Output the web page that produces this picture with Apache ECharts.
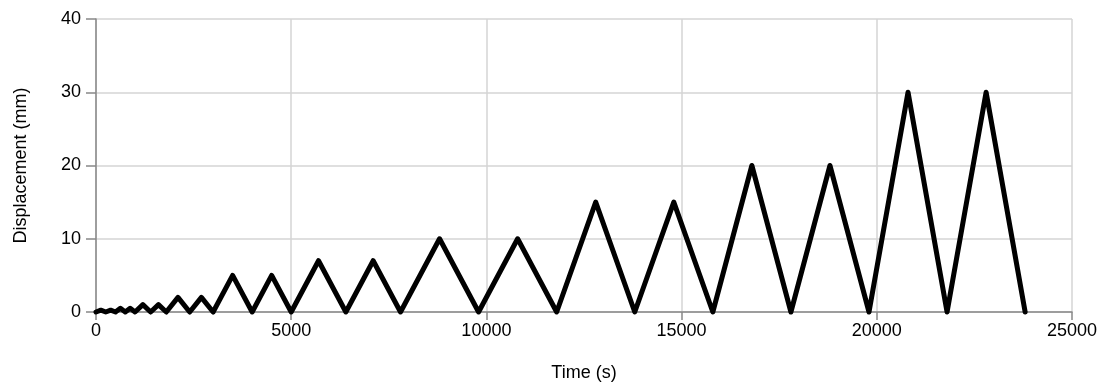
<!DOCTYPE html>
<html>
<head>
<meta charset="utf-8">
<script src="https://cdn.jsdelivr.net/npm/echarts@6/dist/echarts.min.js"></script>
<style>
html,body{margin:0;padding:0;background:#fff;}
#chart{width:1099px;height:384px;}
</style>
</head>
<body>
<div id="chart"></div>
<script>
// Time (s) at each turning point of the loading protocol
var timeS = [0, 125, 250, 375, 500, 625, 750, 875, 1000, 1200, 1400, 1600, 1800, 2100, 2400, 2700, 3000,
  3500, 4000, 4500, 5000, 5700, 6400, 7100, 7800, 8800, 9800, 10800, 11800,
  12800, 13800, 14800, 15800, 16800, 17800, 18800, 19800, 20800, 21800, 22800, 23800];
// Displacement (mm) at each turning point
var dispMm = [0, 0.25, 0, 0.25, 0, 0.5, 0, 0.5, 0, 1, 0, 1, 0, 2, 0, 2, 0,
  5, 0, 5, 0, 7, 0, 7, 0, 10, 0, 10, 0,
  15, 0, 15, 0, 20, 0, 20, 0, 30, 0, 30, 0];
var xTicks = [0, 5000, 10000, 15000, 20000, 25000];
var yTicks = [0, 10, 20, 30, 40];

var pts = timeS.map(function (t, i) { return [t, dispMm[i]]; });
var font = 'Liberation Sans, Arial, sans-serif';
var chart = echarts.init(document.getElementById('chart'), null, {renderer: 'canvas'});
chart.setOption({
  animation: false,
  grid: {left: 96, right: 27, top: 19, bottom: 72, containLabel: false, outerBoundsMode: 'none'},
  xAxis: {
    type: 'value', min: xTicks[0], max: xTicks[xTicks.length - 1], interval: 5000,
    name: 'Time (s)', nameLocation: 'middle', nameGap: 52,
    nameTextStyle: {fontFamily: font, fontSize: 18, color: '#000'},
    axisLine: {show: true, onZero: false, lineStyle: {color: '#888', width: 1.5}},
    axisTick: {show: true, length: 8, lineStyle: {color: '#888', width: 1.5}},
    axisLabel: {fontFamily: font, fontSize: 18, color: '#000', margin: 10,
      formatter: function (v) { return String(v); }},
    splitLine: {show: true, lineStyle: {color: '#d4d4d4', width: 1.5}}
  },
  yAxis: {
    type: 'value', min: yTicks[0], max: yTicks[yTicks.length - 1], interval: 10,
    name: 'Displacement (mm)', nameLocation: 'middle', nameGap: 66, nameRotate: 90,
    nameTextStyle: {fontFamily: font, fontSize: 18, color: '#000'},
    axisLine: {show: true, onZero: false, lineStyle: {color: '#888', width: 1.5}},
    axisTick: {show: true, length: 10, lineStyle: {color: '#888', width: 1.5}},
    axisLabel: {fontFamily: font, fontSize: 18, color: '#000', margin: 15,
      formatter: function (v) { return String(v); }},
    splitLine: {show: true, lineStyle: {color: '#d4d4d4', width: 1.5}}
  },
  series: [{
    type: 'line', data: pts, showSymbol: false, symbol: 'none',
    lineStyle: {color: '#000', width: 5, join: 'round', cap: 'round'},
    clip: false
  }]
});
</script>
</body>
</html>
